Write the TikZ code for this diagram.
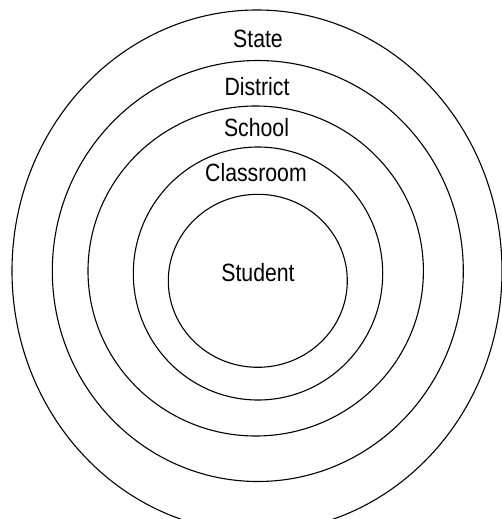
\documentclass[tikz,border=0pt]{standalone}
\usepackage{fontspec}
\setmainfont{Liberation Sans}[FakeStretch=0.85]
\begin{document}
\begin{tikzpicture}[x=1pt,y=-1pt,
  ring/.style={draw=black,line width=1.1pt},
  level/.style={anchor=base,inner sep=0pt,font=\fontsize{25}{30}\selectfont}]
\useasboundingbox (0,0) rectangle (501,519);
% nested levels, outermost first
\draw[ring] (257,271) ellipse [x radius=245, y radius=261];
\draw[ring] (257.8,271) ellipse [x radius=205.5, y radius=210.5];
\draw[ring] (255.7,271) ellipse [x radius=167.7, y radius=165];
\draw[ring] (258,273.5) ellipse [x radius=124.7, y radius=126.5];
\draw[ring] (257.8,280.8) ellipse [x radius=89.5, y radius=86.5];
% labels
\node[level] (state) at (258,47.3) {State};
\node[level] (district) at (257,95) {District};
\node[level] (school) at (256.5,136) {School};
\node[level] (classroom) at (256,181) {Classroom};
\node[level] (student) at (258,281.7) {Student};
\end{tikzpicture}
\end{document}
